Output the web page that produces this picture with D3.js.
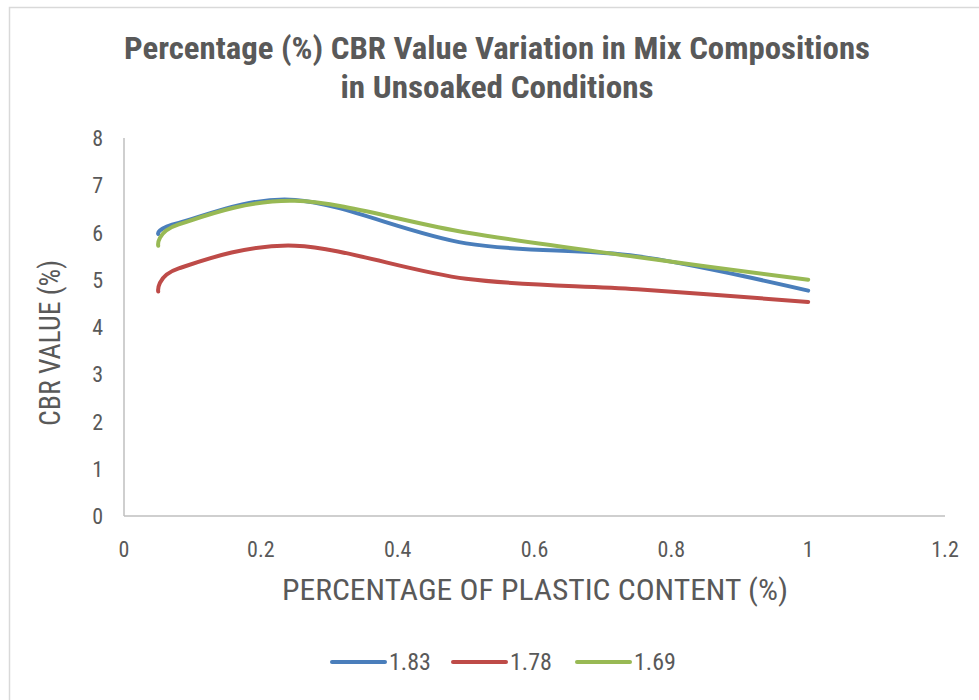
<!DOCTYPE html>
<html><head><meta charset="utf-8">
<script src="https://cdn.jsdelivr.net/npm/d3@7"></script>
<style>body{margin:0;background:#fff;}svg{display:block;}</style>
</head><body>
<script>
const xValues = [0.05, 0.08, 0.25, 0.5, 0.75, 1.0];
const s183 = [5.97, 6.20, 6.69, 5.77, 5.50, 4.77];
const s178 = [4.75, 5.24, 5.72, 5.02, 4.80, 4.53];
const s169 = [5.72, 6.17, 6.67, 6.00, 5.48, 5.00];
const seriesNames = ["1.83", "1.78", "1.69"];
const colors = ["#4A7EBB", "#BE4B48", "#98B954"];
const xTicks = [0, 0.2, 0.4, 0.6, 0.8, 1, 1.2];
const yTicks = [0, 1, 2, 3, 4, 5, 6, 7, 8];
const titleLines = ["Percentage (%) CBR Value Variation in Mix Compositions", "in Unsoaked Conditions"];
const xTitle = "PERCENTAGE OF PLASTIC CONTENT (%)";
const yTitle = "CBR VALUE (%)";

const W = 979, H = 700;
const svg = d3.select("body").append("svg").attr("width", W).attr("height", H);
const narrow = "'Liberation Sans Narrow','Arial Narrow','Roboto Condensed',sans-serif";
const txt = "#595959";

svg.append("rect").attr("x", 9.5).attr("y", 7.5).attr("width", 1000).attr("height", 800)
  .attr("fill", "none").attr("stroke", "#d9d9d9").attr("stroke-width", 1.5);

const x = d3.scaleLinear().domain([0, 1.2]).range([124, 945]);
const y = d3.scaleLinear().domain([0, 8]).range([516, 138]);

// title
const titleLen = [746, 313];
svg.append("g").selectAll("text").data(titleLines).join("text")
  .attr("x", 497).attr("y", (d, i) => 59 + i * 39)
  .attr("text-anchor", "middle").attr("font-family", narrow).attr("font-weight", "bold")
  .attr("font-size", 31).attr("fill", txt)
  .attr("textLength", (d, i) => titleLen[i]).attr("lengthAdjust", "spacingAndGlyphs")
  .text(d => d);

// axes lines
svg.append("line").attr("x1", x(0)).attr("x2", x(0)).attr("y1", y(8)).attr("y2", y(0))
  .attr("stroke", "#bfbfbf").attr("stroke-width", 1.5);
svg.append("line").attr("x1", x(0)).attr("x2", x(1.2)).attr("y1", y(0)).attr("y2", y(0))
  .attr("stroke", "#bfbfbf").attr("stroke-width", 1.5);

// tick labels
svg.append("g").selectAll("text").data(yTicks).join("text")
  .attr("x", 103).attr("y", d => y(d) + 8).attr("text-anchor", "end")
  .attr("font-family", narrow).attr("font-size", 22).attr("fill", txt).text(d => d);
svg.append("g").selectAll("text").data(xTicks).join("text")
  .attr("x", d => x(d)).attr("y", 557).attr("text-anchor", "middle")
  .attr("font-family", narrow).attr("font-size", 22).attr("fill", txt).text(d => d);

// axis titles
svg.append("text").attr("x", 535).attr("y", 600).attr("text-anchor", "middle")
  .attr("font-family", narrow).attr("font-size", 30).attr("fill", txt)
  .attr("textLength", 506).attr("lengthAdjust", "spacingAndGlyphs").text(xTitle);
svg.append("text").attr("transform", "translate(60,343) rotate(-90)").attr("text-anchor", "middle")
  .attr("font-family", narrow).attr("font-size", 30).attr("fill", txt)
  .attr("textLength", 166).attr("lengthAdjust", "spacingAndGlyphs").text(yTitle);

// lines
const allSeries = [s183, s178, s169];
const line = d3.line().x(d => x(d[0])).y(d => y(d[1])).curve(d3.curveCardinal.tension(0));
allSeries.forEach((s, i) => {
  svg.append("path").datum(xValues.map((xv, j) => [xv, s[j]]))
    .attr("d", line).attr("fill", "none").attr("stroke", colors[i])
    .attr("stroke-width", 4).attr("stroke-linecap", "round").attr("stroke-linejoin", "round");
});

// legend
const legX = [332, 453, 577];
const leg = svg.append("g").selectAll("g").data(seriesNames).join("g")
  .attr("transform", (d, i) => `translate(${legX[i]},662)`);
leg.append("line").attr("x1", 0).attr("x2", 53).attr("y1", 0).attr("y2", 0)
  .attr("stroke", (d, i) => colors[i]).attr("stroke-width", 4).attr("stroke-linecap", "round");
leg.append("text").attr("x", 57).attr("y", 8).attr("font-family", narrow).attr("font-size", 24)
  .attr("fill", txt).text(d => d);
</script>
</body></html>
